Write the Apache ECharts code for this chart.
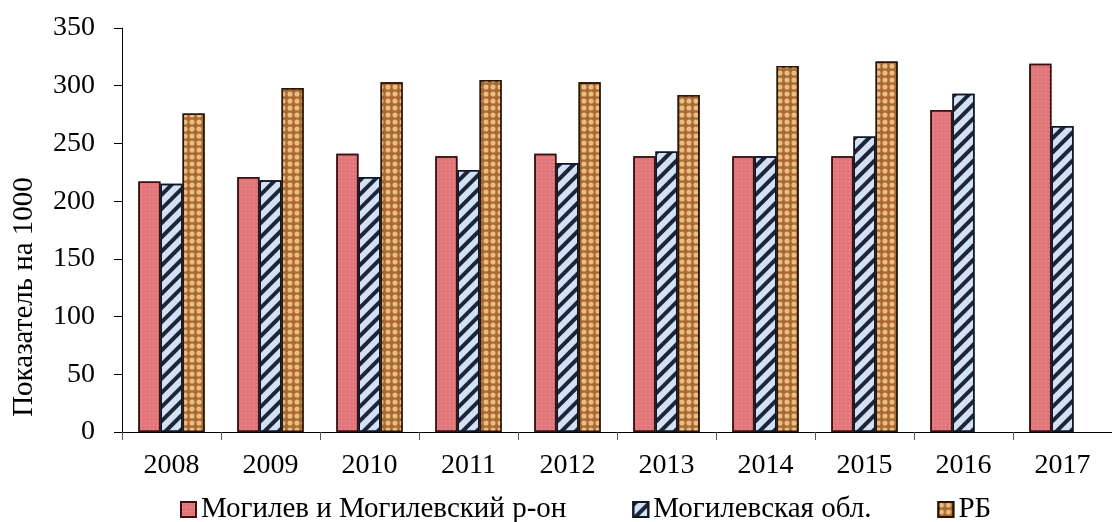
<!DOCTYPE html>
<html>
<head>
<meta charset="utf-8">
<script src="https://cdn.jsdelivr.net/npm/echarts@6/dist/echarts.min.js"></script>
<style>
html,body{margin:0;padding:0;background:#fff;}
#chart{width:1112px;height:522px;}
</style>
</head>
<body>
<div id="chart"></div>
<script>
const categories = ['2008','2009','2010','2011','2012','2013','2014','2015','2016','2017'];
const mogilevCity = [217, 221, 241, 239, 241, 239, 239, 239, 279, 319];
const mogilevRegion = [215, 218, 221, 227, 233, 243, 239, 256, 293, 265];
const belarus = [276, 298, 303, 305, 303, 292, 317, 321, null, null];
const seriesNames = ['Могилев и Могилевский р-он', 'Могилевская обл.', 'РБ'];
const yTicks = { min: 0, max: 350, interval: 50 };
const yTitle = 'Показатель на 1000';

const font = 'Liberation Serif, Times New Roman, serif';
const chart = echarts.init(document.getElementById('chart'), null, {renderer: 'canvas'});

const redStyle = {
  color: '#e07679',
  borderColor: '#3a1010',
  borderWidth: 1.5,
  decal: {symbol: 'circle', symbolSize: 0.5, color: 'rgba(255,190,195,0.45)', dashArrayX: [3, 1], dashArrayY: [3, 1]}
};
const blueStyle = {
  color: '#d4e0f4',
  borderColor: '#101828',
  borderWidth: 1.5,
  decal: {symbol: 'rect', symbolSize: 1, color: '#1c2638', dashArrayX: [[1, 0]], dashArrayY: [4, 6], rotation: -Math.PI / 4}
};
const rbStyle = {
  color: '#a86a30',
  borderColor: '#2a1608',
  borderWidth: 1.5,
  decal: {symbol: 'circle', symbolSize: 0.85, color: '#eabd84', dashArrayX: [6, 1], dashArrayY: [6, 1]}
};

chart.setOption({
  backgroundColor: '#ffffff',
  animation: false,
  textStyle: {fontFamily: font, color: '#000'},
  grid: {left: 122, top: 28, bottom: 90, right: -7, containLabel: false},
  legend: {
    left: 180, top: 495, padding: 0,
    icon: 'rect',
    itemWidth: 15, itemHeight: 15, itemGap: 66,
    textStyle: {fontFamily: font, fontSize: 29, color: '#000'},
    data: seriesNames
  },
  xAxis: {
    type: 'category',
    data: categories,
    axisLine: {lineStyle: {color: '#000', width: 1}},
    axisTick: {show: true, length: 8, lineStyle: {color: '#555'}},
    axisLabel: {fontFamily: font, fontSize: 28, color: '#000', margin: 20}
  },
  yAxis: {
    type: 'value',
    min: yTicks.min, max: yTicks.max, interval: yTicks.interval,
    axisLine: {show: true, lineStyle: {color: '#000', width: 1}},
    axisTick: {show: true, length: 8, lineStyle: {color: '#000'}},
    splitLine: {show: false},
    axisLabel: {fontFamily: font, fontSize: 28, color: '#000', margin: 27}
  },
  graphic: [{
    type: 'text',
    x: 24, y: 297,
    rotation: Math.PI / 2,
    style: {text: yTitle, font: '29px ' + font, fill: '#000', textAlign: 'center', textVerticalAlign: 'middle'}
  }],
  series: [
    {name: seriesNames[0], type: 'bar', data: mogilevCity, barGap: '0%', barCategoryGap: '33%', itemStyle: redStyle},
    {name: seriesNames[1], type: 'bar', data: mogilevRegion, itemStyle: blueStyle},
    {name: seriesNames[2], type: 'bar', data: belarus, itemStyle: rbStyle}
  ]
});
</script>
</body>
</html>
